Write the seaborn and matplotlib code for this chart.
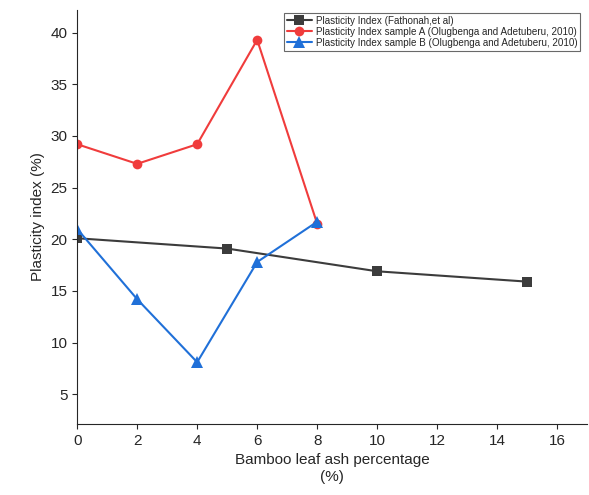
import matplotlib
matplotlib.use('Agg')
import matplotlib.pyplot as plt
import seaborn as sns

x_fath = [0, 5, 10, 15]
pi_fath = [20.1, 19.1, 16.9, 15.9]
x_ol = [0, 2, 4, 6, 8]
pi_a = [29.2, 27.3, 29.2, 39.3, 21.5]
pi_b = [21.0, 14.2, 8.1, 17.8, 21.7]

sns.set_style('ticks')
plt.rcParams['font.family'] = ['Liberation Sans', 'DejaVu Sans']

fig = plt.figure(figsize=(5.89, 4.95), dpi=100)
ax = fig.add_axes([0.131, 0.143, 0.866, 0.837])

sns.lineplot(x=x_fath, y=pi_fath, ax=ax, color='#3c3c3c', marker='s', markersize=7,
             markeredgewidth=0, label='Plasticity Index (Fathonah,et al)')
sns.lineplot(x=x_ol, y=pi_a, ax=ax, color='#f03c3c', marker='o', markersize=7,
             markeredgewidth=0, label='Plasticity Index sample A (Olugbenga and Adetuberu, 2010)')
sns.lineplot(x=x_ol, y=pi_b, ax=ax, color='#2070d8', marker='^', markersize=8,
             markeredgewidth=0, label='Plasticity Index sample B (Olugbenga and Adetuberu, 2010)')

ax.set_xlim(0, 17)
ax.set_ylim(2.1, 42.2)
ax.set_xticks(range(0, 17, 2))
ax.set_yticks(range(5, 41, 5))
ax.tick_params(labelsize=11)
ax.set_xlabel('Bamboo leaf ash percentage\n(%)', fontsize=11)
ax.set_ylabel('Plasticity index (%)', fontsize=11)
sns.despine(ax=ax)

leg = ax.legend(loc='upper left', bbox_to_anchor=(0.4, 1.0), fontsize=7.1, frameon=True,
                fancybox=False, edgecolor='#444444', borderpad=0.3, labelspacing=0.1,
                handlelength=2.5, handletextpad=0.4, borderaxespad=0.3)
leg.get_frame().set_linewidth(0.8)

fig.savefig('out.png', dpi=100)
